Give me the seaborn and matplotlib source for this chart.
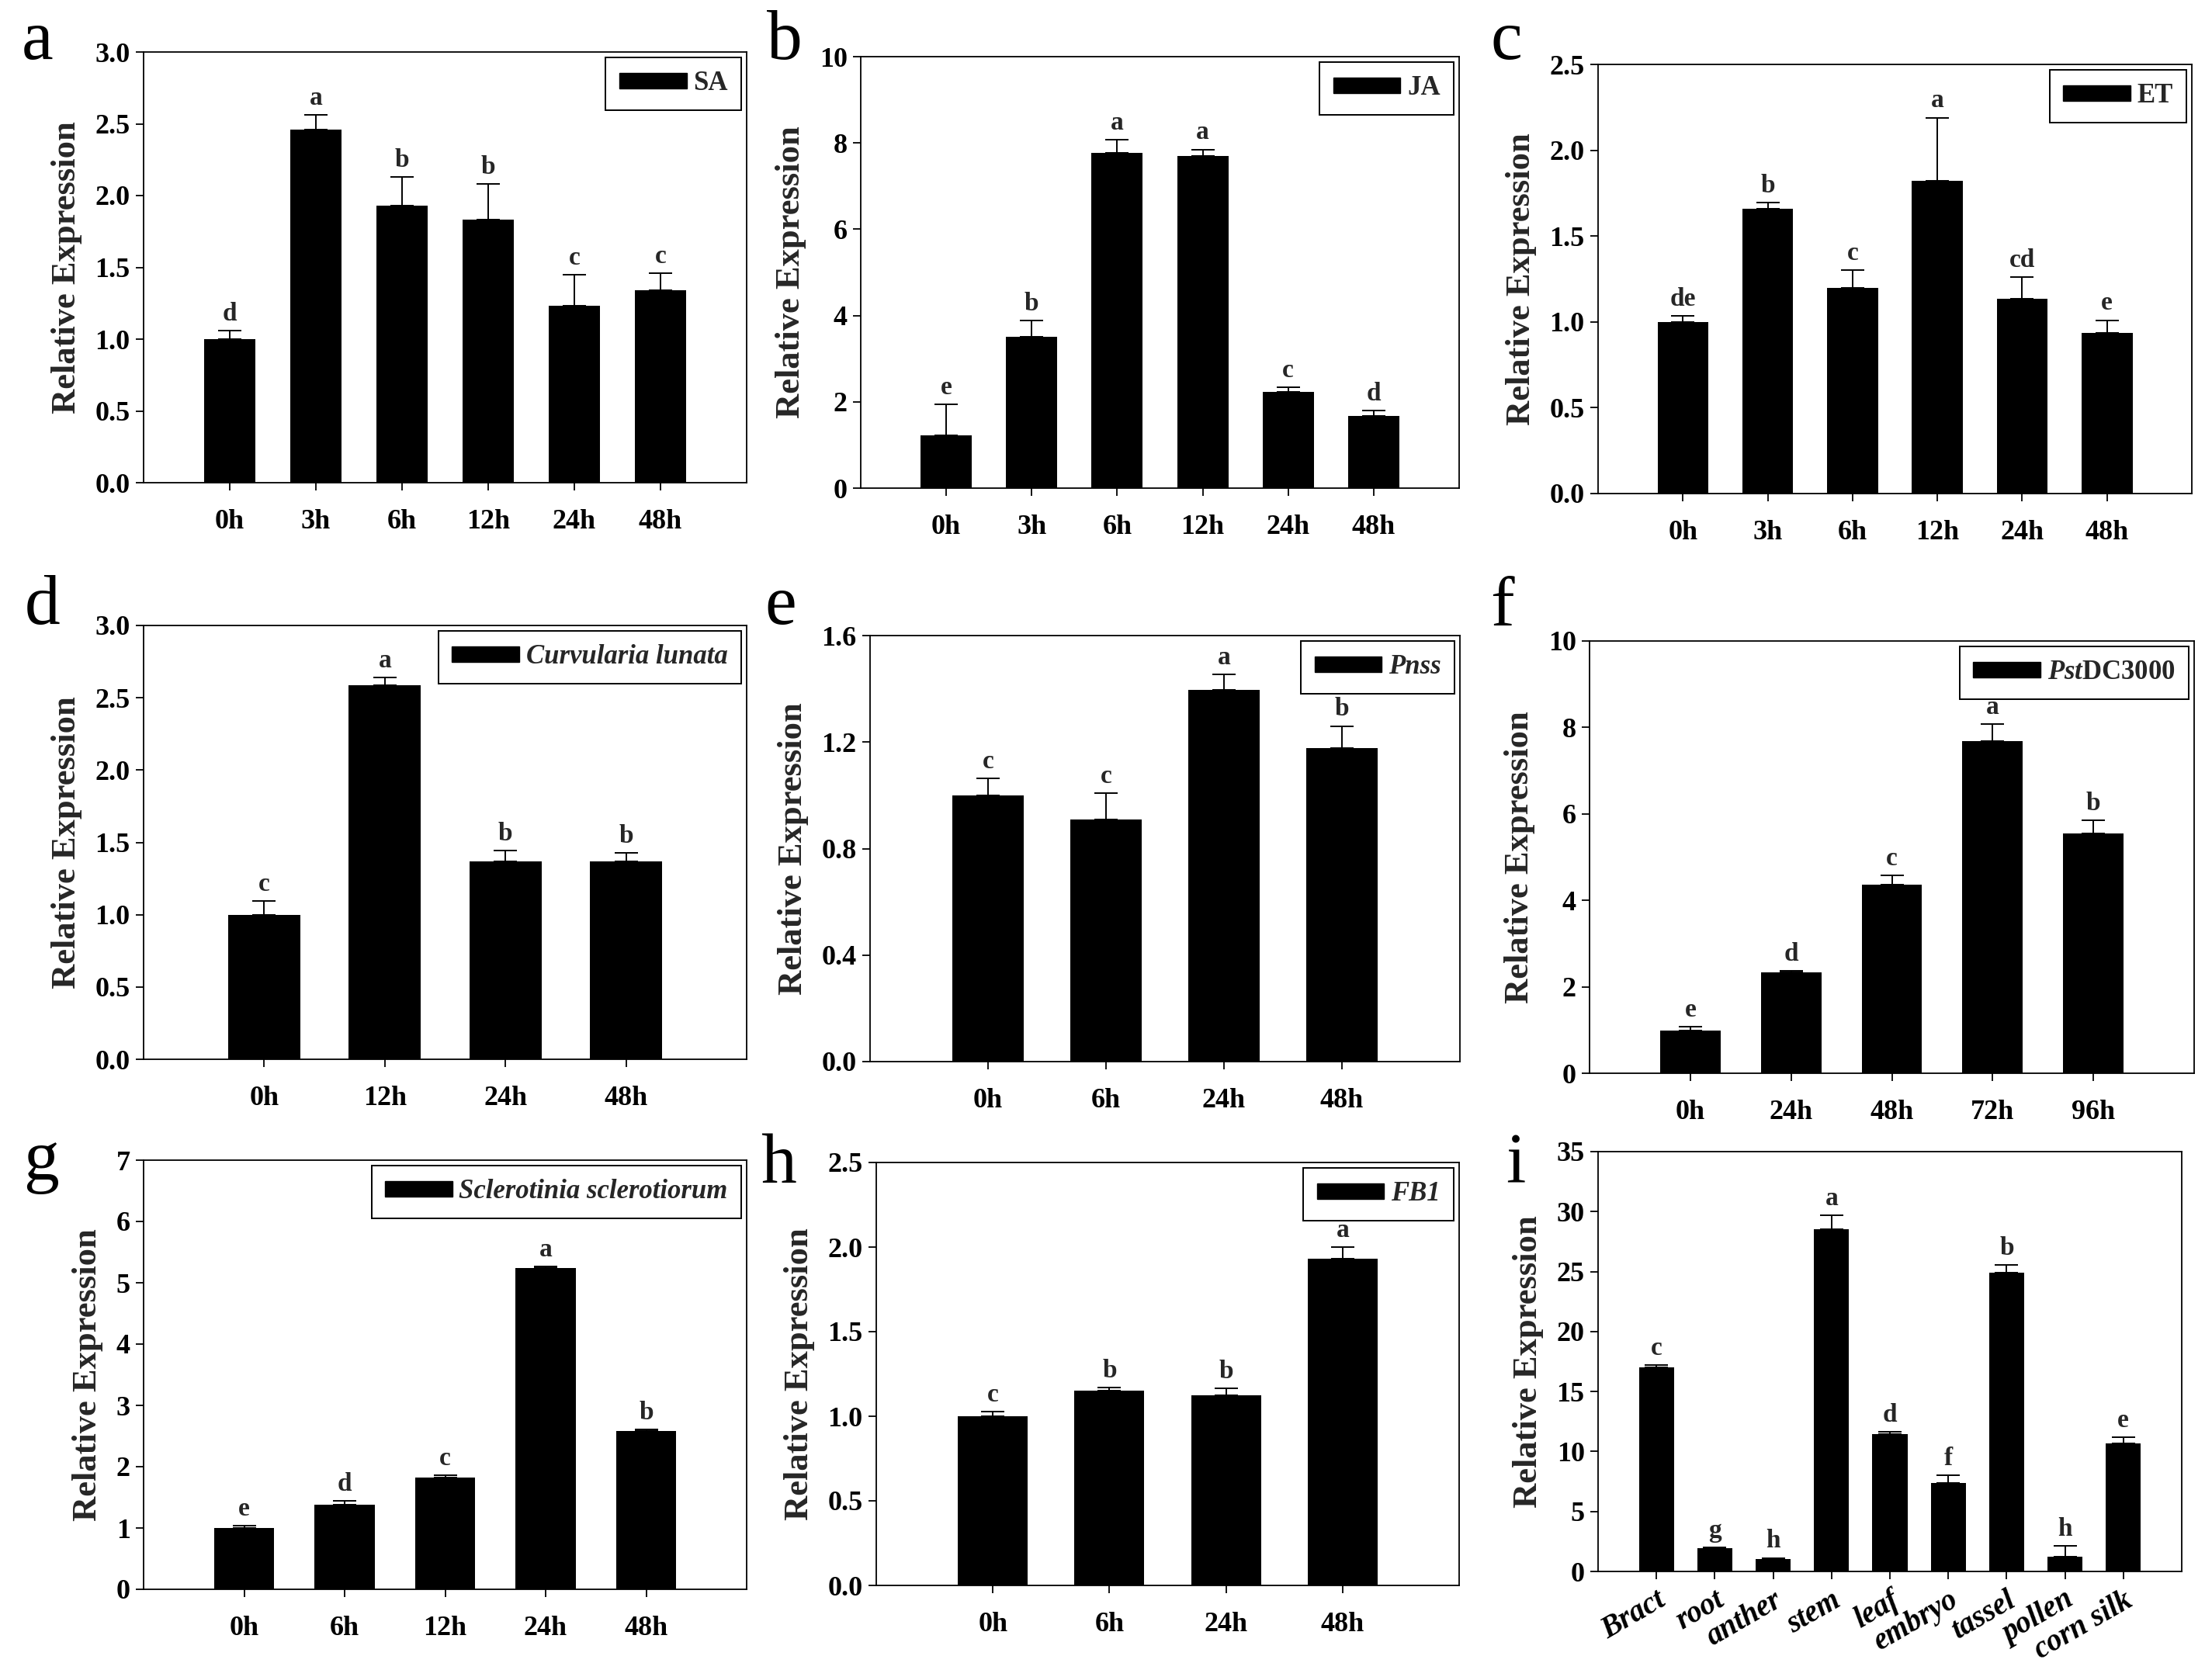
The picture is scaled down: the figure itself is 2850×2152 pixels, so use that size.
import numpy as np
import matplotlib
matplotlib.use("Agg")
import matplotlib.pyplot as plt
import seaborn as sns
from matplotlib.patches import Patch

# ---------------- data ----------------
a_cats = ['0h', '3h', '6h', '12h', '24h', '48h']
a_vals = [1.00, 2.46, 1.93, 1.83, 1.23, 1.34]
a_errs = [0.06, 0.10, 0.20, 0.25, 0.22, 0.12]
a_sig = ['d', 'a', 'b', 'b', 'c', 'c']

b_cats = ['0h', '3h', '6h', '12h', '24h', '48h']
b_vals = [1.22, 3.51, 7.77, 7.69, 2.23, 1.67]
b_errs = [0.72, 0.37, 0.30, 0.16, 0.11, 0.13]
b_sig = ['e', 'b', 'a', 'a', 'c', 'd']

c_cats = ['0h', '3h', '6h', '12h', '24h', '48h']
c_vals = [1.00, 1.66, 1.20, 1.82, 1.135, 0.935]
c_errs = [0.035, 0.035, 0.10, 0.37, 0.125, 0.075]
c_sig = ['de', 'b', 'c', 'a', 'cd', 'e']

d_cats = ['0h', '12h', '24h', '48h']
d_vals = [1.00, 2.585, 1.37, 1.37]
d_errs = [0.095, 0.055, 0.075, 0.055]
d_sig = ['c', 'a', 'b', 'b']

e_cats = ['0h', '6h', '24h', '48h']
e_vals = [1.00, 0.908, 1.395, 1.176]
e_errs = [0.064, 0.10, 0.059, 0.084]
e_sig = ['c', 'c', 'a', 'b']

f_cats = ['0h', '24h', '48h', '72h', '96h']
f_vals = [0.99, 2.34, 4.37, 7.69, 5.54]
f_errs = [0.08, 0.03, 0.20, 0.39, 0.31]
f_sig = ['e', 'd', 'c', 'a', 'b']

g_cats = ['0h', '6h', '12h', '24h', '48h']
g_vals = [1.00, 1.38, 1.82, 5.24, 2.585]
g_errs = [0.04, 0.06, 0.04, 0.02, 0.02]
g_sig = ['e', 'd', 'c', 'a', 'b']

h_cats = ['0h', '6h', '24h', '48h']
h_vals = [1.00, 1.15, 1.124, 1.93]
h_errs = [0.027, 0.02, 0.04, 0.07]
h_sig = ['c', 'b', 'b', 'a']

i_cats = ['Bract', 'root', 'anther', 'stem', 'leaf', 'embryo', 'tassel', 'pollen', 'corn silk']
i_vals = [17.0, 1.91, 1.04, 28.55, 11.48, 7.35, 24.9, 1.21, 10.7]
i_errs = [0.2, 0.11, 0.09, 1.15, 0.18, 0.69, 0.67, 0.9, 0.47]
i_sig = ['c', 'g', 'h', 'a', 'd', 'f', 'b', 'h', 'e']

legend_labels = ['SA', 'JA', 'ET', 'Curvularia lunata', 'Pnss',
                 r'$\mathit{Pst}$DC3000', 'Sclerotinia sclerotiorum', 'FB1', None]
legend_italic = [False, False, False, True, True, False, True, True, False]
panel_letters = ['a', 'b', 'c', 'd', 'e', 'f', 'g', 'h', 'i']
y_ticks = [np.arange(0, 3.01, 0.5), np.arange(0, 10.1, 2), np.arange(0, 2.51, 0.5),
           np.arange(0, 3.01, 0.5), np.arange(0, 1.61, 0.4), np.arange(0, 10.1, 2),
           np.arange(0, 7.1, 1), np.arange(0, 2.51, 0.5), np.arange(0, 35.1, 5)]
y_fmt = ['%.1f', '%d', '%.1f', '%.1f', '%.1f', '%d', '%d', '%.1f', '%d']

# ---------------- style ----------------
sns.set_theme(style='ticks')
plt.rcParams['font.family'] = ['Liberation Serif', 'DejaVu Serif']
plt.rcParams['font.weight'] = 'bold'
plt.rcParams['axes.labelweight'] = 'bold'
plt.rcParams['mathtext.fontset'] = 'custom'
plt.rcParams['mathtext.rm'] = 'Liberation Serif:bold'
plt.rcParams['mathtext.bf'] = 'Liberation Serif:bold'
plt.rcParams['mathtext.it'] = 'Liberation Serif:italic:bold'

W, H = 2850, 2152
fig = plt.figure(figsize=(W / 100, H / 100), dpi=100)
fig.patch.set_facecolor('white')

# axes boxes in pixels: x0, x1, y0 (top), y1 (bottom)
boxes = [(185, 962, 67, 622), (1109, 1880, 73, 629), (2059, 2824, 83, 636),
         (185, 962, 806, 1365), (1121, 1881, 819, 1368), (2048, 2827, 826, 1383),
         (185, 962, 1495, 2048), (1129, 1880, 1498, 2043), (2059, 2811, 1484, 2025)]
letter_pos = [(28, 76), (988, 76), (1920, 76), (32, 804), (985, 804), (1920, 806),
              (30, 1520), (980, 1524), (1940, 1524)]

panels = [(a_cats, a_vals, a_errs, a_sig), (b_cats, b_vals, b_errs, b_sig),
          (c_cats, c_vals, c_errs, c_sig), (d_cats, d_vals, d_errs, d_sig),
          (e_cats, e_vals, e_errs, e_sig), (f_cats, f_vals, f_errs, f_sig),
          (g_cats, g_vals, g_errs, g_sig), (h_cats, h_vals, h_errs, h_sig),
          (i_cats, i_vals, i_errs, i_sig)]

for k, (cats, vals, errs, sig) in enumerate(panels):
    x0, x1, y0, y1 = boxes[k]
    ax = fig.add_axes([x0 / W, 1 - y1 / H, (x1 - x0) / W, (y1 - y0) / H])
    sns.barplot(x=cats, y=vals, order=cats, color='black', saturation=1,
                width=0.6, edgecolor='black', linewidth=0, errorbar=None, ax=ax)
    xs = np.arange(len(cats))
    ax.errorbar(xs, vals, yerr=[np.zeros(len(errs)), errs], fmt='none',
                ecolor='black', elinewidth=1.4, capsize=11, capthick=1.4)
    for xi, v, e, s in zip(xs, vals, errs, sig):
        ax.annotate(s, xy=(xi, v + e), xytext=(0, 9.5), textcoords='offset points',
                    ha='center', va='baseline', fontsize=24, fontweight='bold')
    ticks = y_ticks[k]
    ax.set_ylim(ticks[0], ticks[-1])
    ax.set_yticks(ticks)
    ax.set_yticklabels([y_fmt[k] % t for t in ticks])
    ax.set_xlim(-1, len(cats))
    ax.set_xlabel('')
    ax.set_ylabel('Relative Expression', fontsize=32, fontweight='bold', labelpad=12)
    for sp in ax.spines.values():
        sp.set_visible(True)
        sp.set_color('black')
        sp.set_linewidth(1.3)
    ax.tick_params(axis='y', direction='out', length=7.5, width=1.3, pad=5,
                   labelsize=26, colors='black', left=True)
    ax.tick_params(axis='x', direction='out', length=7.5, width=1.3,
                   labelsize=26, colors='black', bottom=True)
    if k == 8:
        ax.tick_params(axis='x', pad=6)
        ax.set_xticks(xs)
        ax.set_xticklabels(cats, rotation=30, ha='right', va='top',
                           rotation_mode='anchor', fontstyle='italic', fontweight='bold',
                           fontsize=28)
    else:
        ax.tick_params(axis='x', pad=17)
    for t in ax.get_xticklabels() + ax.get_yticklabels():
        t.set_fontweight('bold')
    ax.set_facecolor('white')
    ax.grid(False)

    lab = legend_labels[k]
    if lab is not None:
        handle = Patch(facecolor='black', edgecolor='black')
        prop = {'size': 25, 'weight': 'bold',
                'style': 'italic' if legend_italic[k] else 'normal'}
        leg = ax.legend([handle], [lab], loc='upper right', prop=prop,
                        handlelength=2.5, handleheight=0.5, handletextpad=0.25,
                        borderpad=0.5, borderaxespad=0.2, fancybox=False,
                        framealpha=1, edgecolor='black')
        leg.get_frame().set_linewidth(1.4)

    lx, ly = letter_pos[k]
    fig.text(lx / W, 1 - ly / H, panel_letters[k], fontsize=66, fontweight='normal',
             ha='left', va='baseline', color='black')

fig.savefig('out.png', dpi=100, facecolor='white')
